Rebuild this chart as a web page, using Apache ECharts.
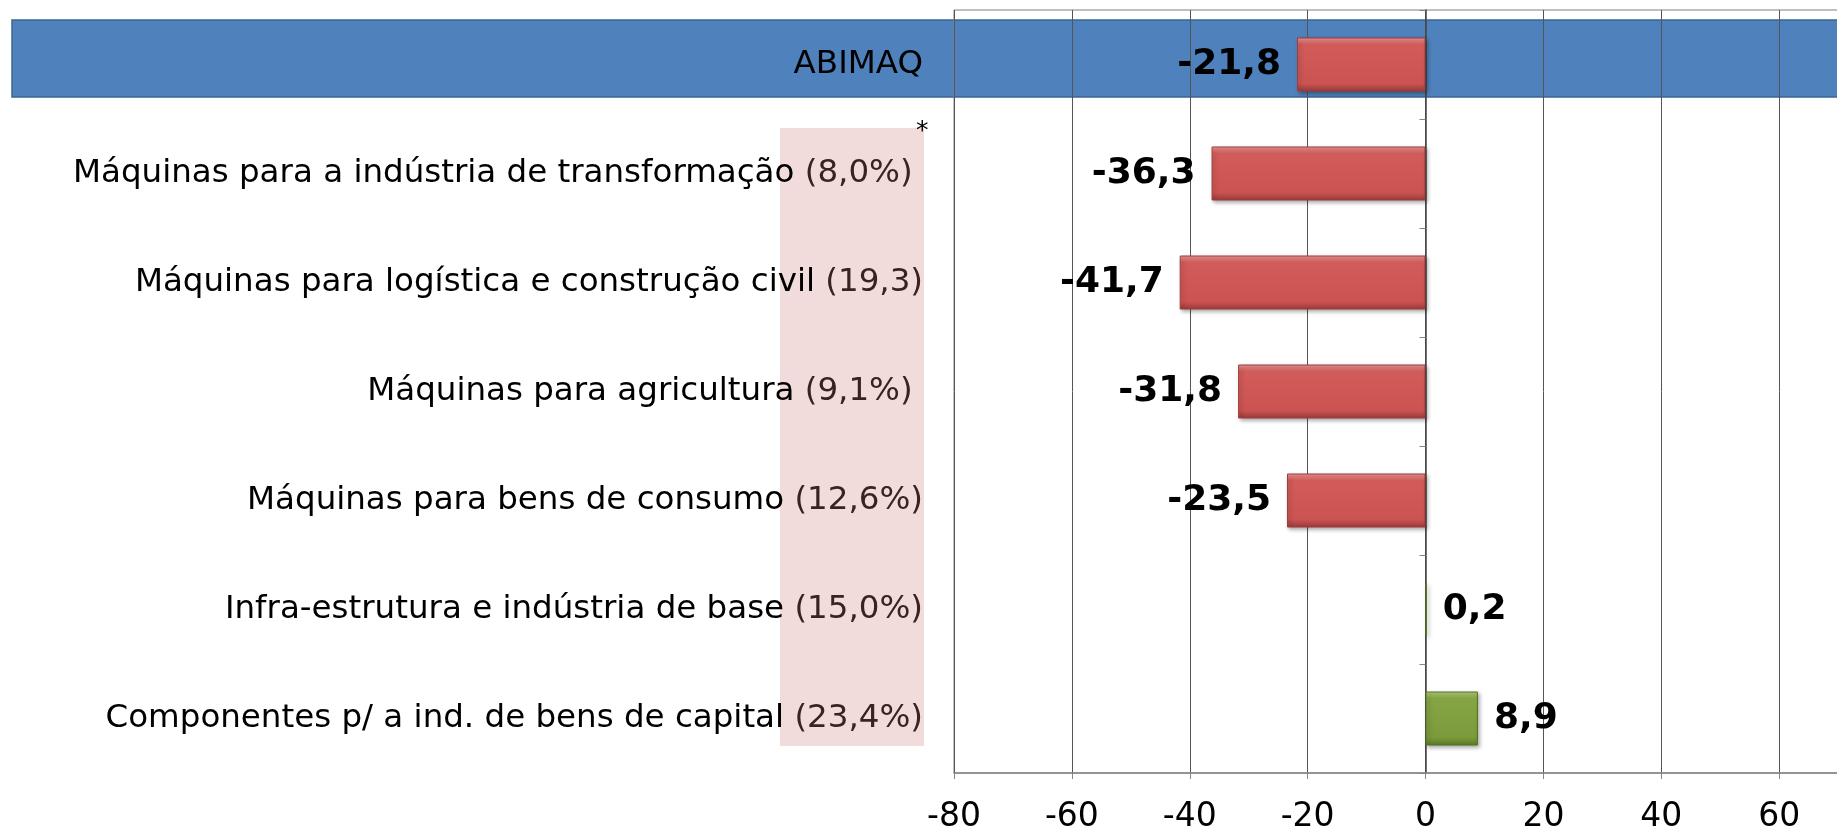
<!doctype html>
<html>
<head>
<meta charset="utf-8">
<script src="https://cdn.jsdelivr.net/npm/echarts@6/dist/echarts.min.js"></script>
<style>
	html, body { margin: 0; padding: 0; background: #fff; }
	#grafico { width: 1837px; height: 832px; }
</style>
</head>
<body>
<div id="grafico"></div>
<script>
	// setores (o primeiro é o total ABIMAQ) e variação em %
	var setores = [
		'ABIMAQ',
		'Máquinas para a indústria de transformação (8,0%) ',
		'Máquinas para logística e construção civil (19,3)',
		'Máquinas para agricultura (9,1%) ',
		'Máquinas para bens de consumo (12,6%)',
		'Infra-estrutura e indústria de base (15,0%)',
		'Componentes p/ a ind. de bens de capital (23,4%)'
	];
	var variacao = [-21.8, -36.3, -41.7, -31.8, -23.5, 0.2, 8.9];
	var eixoMin = -80, eixoMax = 80, eixoPasso = 20;

	var fonte = 'Verdana, "DejaVu Sans", sans-serif';

	var corVermelha = new echarts.graphic.LinearGradient(0, 0, 0, 1, [
		{ offset: 0, color: '#eb9896' },
		{ offset: 0.13, color: '#d25c5a' },
		{ offset: 0.85, color: '#cb5452' },
		{ offset: 1, color: '#9a3b39' }
	]);
	var corVerde = new echarts.graphic.LinearGradient(0, 0, 0, 1, [
		{ offset: 0, color: '#b4d07a' },
		{ offset: 0.13, color: '#86a645' },
		{ offset: 0.85, color: '#7b9a3c' },
		{ offset: 1, color: '#5b7a26' }
	]);

	var dados = [];
	for (var i = 0; i < variacao.length; i++) {
		var v = variacao[i];
		dados.push({
			value: v,
			itemStyle: {
				color: v < 0 ? corVermelha : corVerde,
				borderColor: v < 0 ? '#9c3f3d' : '#55731f',
				borderWidth: 1
			},
			label: { position: v < 0 ? 'left' : 'right' }
		});
	}

	var grafico = echarts.init(document.getElementById('grafico'));
	var opcao = {
		animation: false,
		grid: {
			left: 954, top: 10, width: 943, bottom: 59,
			outerBoundsMode: 'none', containLabel: false,
			show: true, borderColor: '#808080', borderWidth: 1
		},
		graphic: [
			{ type: 'rect', z: -10, shape: { x: 12, y: 20, width: 1830, height: 77 },
				style: { fill: '#4f81bd', stroke: '#3a6595', lineWidth: 1.5 } },
			{ type: 'rect', z: -10, shape: { x: 780, y: 128, width: 144, height: 618 },
				style: { fill: '#f2dcdb' } },
			{ type: 'text', z: 5, x: 916, y: 119,
				style: { text: '*', font: '25px ' + fonte, fill: '#000' } }
		],
		xAxis: {
			type: 'value',
			min: eixoMin, max: eixoMax, interval: eixoPasso,
			axisLine: { show: true, onZero: false, lineStyle: { color: '#868686', width: 1.5 } },
			axisTick: { show: true, length: 6, lineStyle: { color: '#868686' } },
			axisLabel: { fontSize: 33, color: '#000', margin: 28, fontFamily: fonte },
			splitLine: { show: true, lineStyle: { color: '#555', width: 1 } }
		},
		yAxis: [{
			type: 'category',
			data: setores,
			inverse: true,
			axisLine: { show: true, onZero: true, lineStyle: { color: '#444', width: 1.5 } },
			axisTick: { show: true, length: 6, lineStyle: { color: '#868686' } },
			axisLabel: { show: false },
			splitLine: { show: false }
		}, {
			type: 'category',
			data: setores,
			inverse: true,
			position: 'left',
			axisLine: { show: false, onZero: false },
			axisTick: { show: false },
			splitLine: { show: false },
			axisLabel: {
				margin: 31,
				fontSize: 32.5,
				color: '#000',
				fontFamily: fonte,
				formatter: function (s) {
					var k = s.lastIndexOf(' (');
					if (k < 0) return s;
					return s.slice(0, k) + ' {p|' + s.slice(k + 1) + '}';
				},
				rich: { p: { fontSize: 32.5, color: '#3a2222', fontFamily: fonte } }
			}
		}],
		series: [{
			type: 'bar',
			data: dados,
			barWidth: 54,
			itemStyle: {
				shadowColor: 'rgba(0,0,0,0.35)',
				shadowBlur: 4,
				shadowOffsetX: 2,
				shadowOffsetY: 2
			},
			label: {
				show: true,
				distance: 16,
				fontSize: 36,
				fontWeight: 'bold',
				color: '#000',
				fontFamily: fonte,
				formatter: function (p) { return p.value.toFixed(1).replace('.', ','); }
			}
		}]
	};
	grafico.setOption(opcao);
</script>
</body>
</html>
